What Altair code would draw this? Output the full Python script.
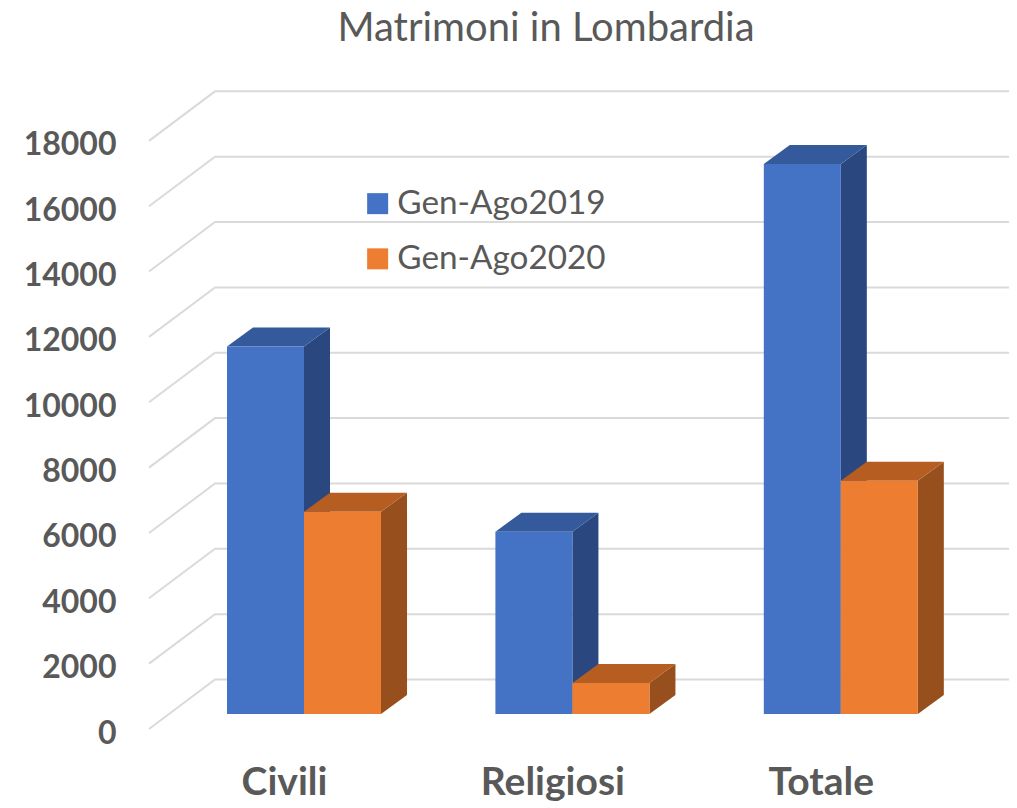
import json
import altair as alt
import pandas as pd

categories = ["Civili", "Religiosi", "Totale"]
series_names = ["Gen-Ago2019", "Gen-Ago2020"]
values_2019 = [11250, 5580, 16830]
values_2020 = [6190, 950, 7140]
y_ticks = list(range(0, 18001, 2000))

front_colors = ["#4472C4", "#ED7D31"]
top_colors = ["#345A9C", "#B65D22"]
side_colors = ["#2A4780", "#974F1D"]
grid_color = "#DADADA"
text_color = "#595959"

# geometry of the pseudo-3D projection, in data units
BAR_W = 0.2869
DEPTH_X = 0.0969
DEPTH_Y = 581
BASE = 459
WALL_X = 0.2459
WALL_Y = 1515
X_MIN, X_MAX = -0.5775, 2.6266
Y_MAX = 19525

x_scale = alt.Scale(domain=[X_MIN, X_MAX], nice=False, zero=False)
y_scale = alt.Scale(domain=[0, Y_MAX], nice=False, zero=False)

grid_rows = []
for t in y_ticks:
    grid_rows += [
        {"tick": t, "x": X_MIN, "y": t},
        {"tick": t, "x": X_MIN + WALL_X, "y": t + WALL_Y},
        {"tick": t, "x": X_MAX, "y": t + WALL_Y},
    ]
grid = pd.DataFrame(grid_rows)

x_axis = alt.Axis(
    values=[0, 1, 2],
    labelExpr=f"{json.dumps(categories)}[datum.value]",
    title=None, grid=False, domain=False, ticks=False,
    labelFont="Lato", labelFontSize=39, labelFontWeight="bold", labelColor=text_color,
    labelPadding=34, labelOffset=-20, labelFlush=False, labelOverlap=False,
)
y_axis = alt.Axis(
    values=y_ticks, format="d",
    title=None, grid=False, domain=False, ticks=False,
    labelFont="Lato", labelFontSize=32, labelFontWeight="bold", labelColor=text_color,
    labelPadding=33, labelOffset=4, labelOverlap=False, labelFlush=False,
)

layers = [
    alt.Chart(grid).mark_line(color=grid_color, strokeWidth=2).encode(
        x=alt.X("x:Q", scale=x_scale, axis=x_axis),
        y=alt.Y("y:Q", scale=y_scale, axis=y_axis),
        detail="tick:N",
    )
]

color_enc = alt.Color(
    "series:N",
    scale=alt.Scale(domain=series_names, range=front_colors),
    legend=alt.Legend(
        orient="none", legendX=212, legendY=96, title=None, padding=0,
        symbolType="square", symbolSize=441, symbolStrokeWidth=0,
        labelFont="Lato", labelFontSize=33.3, labelColor=text_color,
        labelOffset=3, rowPadding=21.2, labelLimit=400,
    ),
)

for s, (name, vals) in enumerate(zip(series_names, [values_2019, values_2020])):
    front_rows, side_rows, top_rows = [], [], []
    for c, (cat, v) in enumerate(zip(categories, vals)):
        x0 = c - BAR_W if s == 0 else c
        x1 = x0 + BAR_W
        top = v + BASE
        front_rows.append({"series": name, "cat": cat, "x": x0, "x2": x1, "y": BASE, "y2": top})
        side_rows += [
            {"cat": cat, "x": x1, "y": top, "y2": BASE},
            {"cat": cat, "x": x1 + DEPTH_X, "y": top + DEPTH_Y, "y2": BASE + DEPTH_Y},
        ]
        top_rows += [
            {"cat": cat, "x": x0, "y": top, "y2": top},
            {"cat": cat, "x": x0 + DEPTH_X, "y": top + DEPTH_Y, "y2": top},
            {"cat": cat, "x": x1, "y": top + DEPTH_Y, "y2": top},
            {"cat": cat, "x": x1 + DEPTH_X, "y": top + DEPTH_Y, "y2": top + DEPTH_Y},
        ]
    for rows, col in ((side_rows, side_colors[s]), (top_rows, top_colors[s])):
        layers.append(
            alt.Chart(pd.DataFrame(rows)).mark_area(color=col, interpolate="linear").encode(
                x=alt.X("x:Q", scale=x_scale, axis=x_axis),
                y=alt.Y("y:Q", scale=y_scale, axis=y_axis, stack=None),
                y2="y2:Q",
                detail="cat:N",
            )
        )
    layers.append(
        alt.Chart(pd.DataFrame(front_rows)).mark_rect().encode(
            x=alt.X("x:Q", scale=x_scale, axis=x_axis),
            x2="x2:Q",
            y=alt.Y("y:Q", scale=y_scale, axis=y_axis),
            y2="y2:Q",
            color=color_enc,
        )
    )

chart = (
    alt.layer(*layers)
    .properties(
        width=860,
        height=638,
        background="white",
        autosize=alt.AutoSizeParams(type="none"),
        padding={"left": 141, "top": 83, "right": 0, "bottom": 72},
        title=alt.TitleParams(
            "Matrimoni in Lombardia", font="Lato", fontSize=40, fontWeight="normal",
            color=text_color, anchor="middle", frame="group", dx=-33, offset=38,
        ),
    )
    .configure_view(strokeWidth=0)
)
chart.save("out.html", embed_options={"renderer": "svg", "actions": False})
